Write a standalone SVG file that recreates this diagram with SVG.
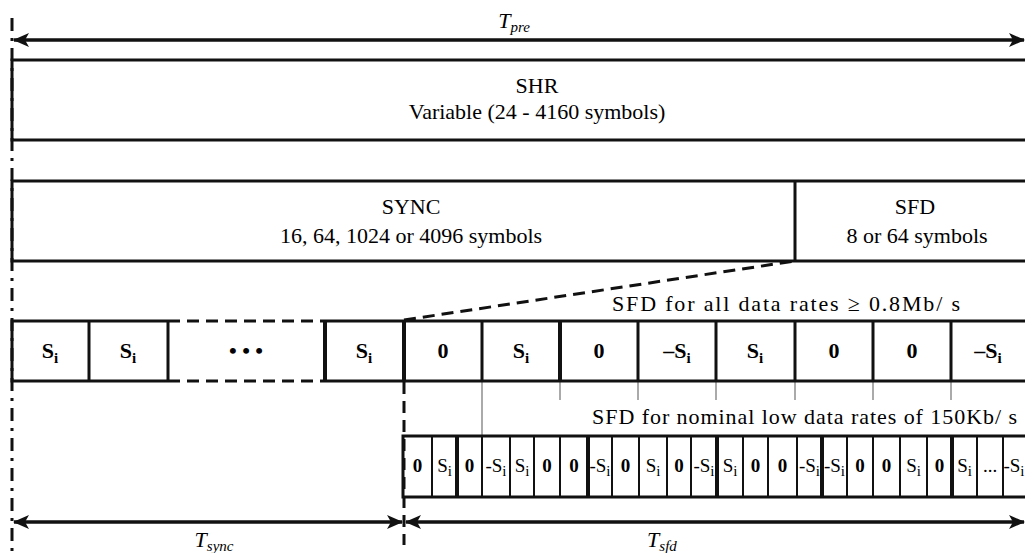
<svg xmlns="http://www.w3.org/2000/svg" width="1025" height="553" viewBox="0 0 1025 553" font-family="Times New Roman">
<defs>
<marker id="ah" viewBox="0 0 16 14" refX="15" refY="7" markerWidth="16" markerHeight="14" markerUnits="userSpaceOnUse" orient="auto-start-reverse">
<path d="M0,0 L16,7 L0,14 L4,7 Z" fill="#111"/>
</marker>
</defs>
<rect width="1025" height="553" fill="#fff"/>

<g id="connectors" fill="none">
<line x1="12" y1="18" x2="12" y2="553" stroke="#111" stroke-width="3" stroke-dasharray="13 7 3 7"/>
<line x1="404" y1="382" x2="404" y2="545" stroke="#111" stroke-width="3" stroke-dasharray="12 7"/>
<line x1="404" y1="320" x2="795" y2="261" stroke="#111" stroke-width="3" stroke-dasharray="12 7"/>
<g stroke="#111" stroke-width="3.5" marker-start="url(#ah)" marker-end="url(#ah)">
<line x1="14" y1="40" x2="1024" y2="40"/>
<line x1="14" y1="522" x2="402" y2="522"/>
<line x1="406" y1="522" x2="1024" y2="522"/>
</g>
<g stroke="#aaa" stroke-width="2">
<line x1="482" y1="382" x2="482" y2="435"/>
<line x1="560" y1="382" x2="560" y2="400"/>
<line x1="638" y1="382" x2="638" y2="400"/>
<line x1="716" y1="382" x2="716" y2="400"/>
<line x1="795" y1="382" x2="795" y2="400"/>
<line x1="873" y1="382" x2="873" y2="400"/>
<line x1="951" y1="382" x2="951" y2="400"/>
</g>
</g>

<g id="tpre"><text x="514" y="28" text-anchor="middle" font-size="22" font-style="italic" font-family="Times New Roman">T<tspan font-size="15" dy="4">pre</tspan></text></g>

<g id="shr">
<path d="M1025,60 H12 V140 H1025" fill="none" stroke="#111" stroke-width="3"/>
<text x="537" y="93" text-anchor="middle" font-size="22" font-family="Times New Roman">SHR</text>
<text x="537" y="119" text-anchor="middle" font-size="22" font-family="Times New Roman">Variable (24 - 4160 symbols)</text>
</g>

<g id="sync">
<path d="M1025,181 H12 V261 H1025 M795,181 V261" fill="none" stroke="#111" stroke-width="3"/>
<text x="411" y="214" text-anchor="middle" font-size="22" font-family="Times New Roman">SYNC</text>
<text x="411" y="243" text-anchor="middle" font-size="22" font-family="Times New Roman">16, 64,  1024 or 4096 symbols</text>
</g>

<g id="sfd">
<text x="915" y="214" text-anchor="middle" font-size="22" font-family="Times New Roman">SFD</text>
<text x="917" y="243" text-anchor="middle" font-size="22" font-family="Times New Roman">8 or 64 symbols</text>
</g>

<g id="row-high">
<path d="M168,321 H12 V381 H168 M325,321 H1025 M325,381 H1025 M89,321 V381 M168,321 V381 M482,321 V381 M638,321 V381 M716,321 V381 M795,321 V381 M873,321 V381 M951,321 V381" fill="none" stroke="#111" stroke-width="3"/>
<path d="M168,321 H325 M168,381 H325" fill="none" stroke="#111" stroke-width="3" stroke-dasharray="12 7"/>
<path d="M325,321 V381 M404,321 V381 M560,321 V381" fill="none" stroke="#111" stroke-width="4"/>
<text x="612" y="311" font-size="22" textLength="348" lengthAdjust="spacing" font-family="Times New Roman">SFD for all data rates  ≥  0.8Mb/ s</text>
<text x="50" y="358" text-anchor="middle" font-size="22" font-weight="bold" font-family="Times New Roman">S<tspan font-size="15" dy="5">i</tspan></text>
<text x="128" y="358" text-anchor="middle" font-size="22" font-weight="bold" font-family="Times New Roman">S<tspan font-size="15" dy="5">i</tspan></text>
<text x="246" y="358" text-anchor="middle" font-size="22" font-weight="bold" font-family="Times New Roman">• • •</text>
<text x="364" y="358" text-anchor="middle" font-size="22" font-weight="bold" font-family="Times New Roman">S<tspan font-size="15" dy="5">i</tspan></text>
<text x="443" y="358" text-anchor="middle" font-size="22" font-weight="bold" font-family="Times New Roman">0</text>
<text x="521" y="358" text-anchor="middle" font-size="22" font-weight="bold" font-family="Times New Roman">S<tspan font-size="15" dy="5">i</tspan></text>
<text x="599" y="358" text-anchor="middle" font-size="22" font-weight="bold" font-family="Times New Roman">0</text>
<text x="677" y="358" text-anchor="middle" font-size="22" font-weight="bold" font-family="Times New Roman">–S<tspan font-size="15" dy="5">i</tspan></text>
<text x="755" y="358" text-anchor="middle" font-size="22" font-weight="bold" font-family="Times New Roman">S<tspan font-size="15" dy="5">i</tspan></text>
<text x="834" y="358" text-anchor="middle" font-size="22" font-weight="bold" font-family="Times New Roman">0</text>
<text x="912" y="358" text-anchor="middle" font-size="22" font-weight="bold" font-family="Times New Roman">0</text>
<text x="988" y="358" text-anchor="middle" font-size="22" font-weight="bold" font-family="Times New Roman">–S<tspan font-size="15" dy="5">i</tspan></text>
</g>

<g id="row-low">
<text x="592" y="424" font-size="22" textLength="425" lengthAdjust="spacing" font-family="Times New Roman">SFD for nominal low data rates of  150Kb/ s</text>
<path d="M1025,436 H403 V497 H1025" fill="none" stroke="#111" stroke-width="3"/>
<path d="M432,436 V497 M482,436 V497 M510,436 V497 M534,436 V497 M560,436 V497 M612,436 V497 M639,436 V497 M667,436 V497 M691,436 V497 M743,436 V497 M768,436 V497 M797,436 V497 M847,436 V497 M873,436 V497 M900,436 V497 M927,436 V497 M977,436 V497 M1003,436 V497" fill="none" stroke="#111" stroke-width="2"/>
<path d="M457,436 V497 M588,436 V497 M717,436 V497 M822,436 V497 M952,436 V497" fill="none" stroke="#111" stroke-width="4"/>
<text x="417.5" y="472" text-anchor="middle" font-size="19" font-weight="bold" font-family="Times New Roman">0</text>
<text x="444.5" y="472" text-anchor="middle" font-size="19" font-family="Times New Roman">S<tspan font-size="15" dy="4">i</tspan></text>
<text x="469.5" y="472" text-anchor="middle" font-size="19" font-weight="bold" font-family="Times New Roman">0</text>
<text x="496" y="472" text-anchor="middle" font-size="19" font-family="Times New Roman">-S<tspan font-size="15" dy="4">i</tspan></text>
<text x="522" y="472" text-anchor="middle" font-size="19" font-family="Times New Roman">S<tspan font-size="15" dy="4">i</tspan></text>
<text x="547" y="472" text-anchor="middle" font-size="19" font-weight="bold" font-family="Times New Roman">0</text>
<text x="574" y="472" text-anchor="middle" font-size="19" font-weight="bold" font-family="Times New Roman">0</text>
<text x="600" y="472" text-anchor="middle" font-size="19" font-family="Times New Roman">-S<tspan font-size="15" dy="4">i</tspan></text>
<text x="625.5" y="472" text-anchor="middle" font-size="19" font-weight="bold" font-family="Times New Roman">0</text>
<text x="653" y="472" text-anchor="middle" font-size="19" font-family="Times New Roman">S<tspan font-size="15" dy="4">i</tspan></text>
<text x="679" y="472" text-anchor="middle" font-size="19" font-weight="bold" font-family="Times New Roman">0</text>
<text x="704" y="472" text-anchor="middle" font-size="19" font-family="Times New Roman">-S<tspan font-size="15" dy="4">i</tspan></text>
<text x="730" y="472" text-anchor="middle" font-size="19" font-family="Times New Roman">S<tspan font-size="15" dy="4">i</tspan></text>
<text x="755.5" y="472" text-anchor="middle" font-size="19" font-weight="bold" font-family="Times New Roman">0</text>
<text x="782.5" y="472" text-anchor="middle" font-size="19" font-weight="bold" font-family="Times New Roman">0</text>
<text x="809.5" y="472" text-anchor="middle" font-size="19" font-family="Times New Roman">-S<tspan font-size="15" dy="4">i</tspan></text>
<text x="834.5" y="472" text-anchor="middle" font-size="19" font-family="Times New Roman">-S<tspan font-size="15" dy="4">i</tspan></text>
<text x="860" y="472" text-anchor="middle" font-size="19" font-weight="bold" font-family="Times New Roman">0</text>
<text x="886.5" y="472" text-anchor="middle" font-size="19" font-weight="bold" font-family="Times New Roman">0</text>
<text x="913.5" y="472" text-anchor="middle" font-size="19" font-family="Times New Roman">S<tspan font-size="15" dy="4">i</tspan></text>
<text x="939.5" y="472" text-anchor="middle" font-size="19" font-weight="bold" font-family="Times New Roman">0</text>
<text x="964.5" y="472" text-anchor="middle" font-size="19" font-family="Times New Roman">S<tspan font-size="15" dy="4">i</tspan></text>
<text x="990" y="472" text-anchor="middle" font-size="19" font-family="Times New Roman">...</text>
<text x="1014" y="472" text-anchor="middle" font-size="19" font-family="Times New Roman">-S<tspan font-size="15" dy="4">i</tspan></text>
</g>

<g id="tsync"><text x="214" y="547" text-anchor="middle" font-size="22" font-style="italic" font-family="Times New Roman">T<tspan font-size="15" dy="4">sync</tspan></text></g>
<g id="tsfd"><text x="662" y="547" text-anchor="middle" font-size="22" font-style="italic" font-family="Times New Roman">T<tspan font-size="15" dy="4">sfd</tspan></text></g>
</svg>
